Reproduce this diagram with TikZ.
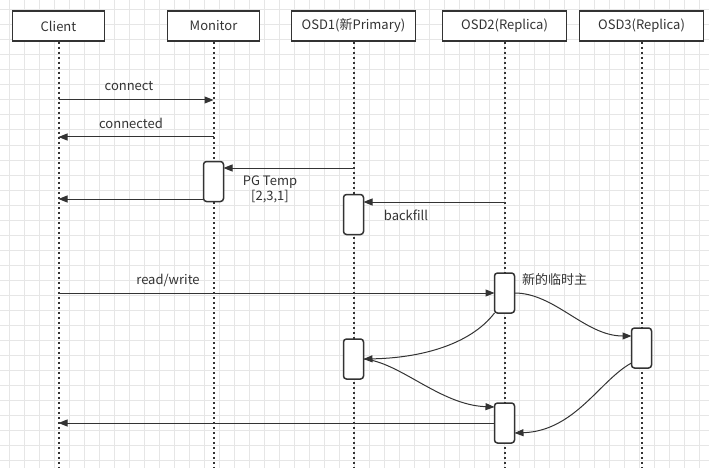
\documentclass[tikz,border=0pt]{standalone}
\usepackage{fontspec}
\setmainfont{Noto Sans CJK SC}
\usetikzlibrary{arrows.meta}
\definecolor{ink}{HTML}{333333}
\definecolor{gridc}{HTML}{E6E6E6}
\begin{document}
\begin{tikzpicture}[x=1pt,y=-1pt,
  font=\fontsize{13}{15}\selectfont,
  head/.style={draw=ink, line width=1.5pt, fill=white, minimum width=#1, minimum height=30pt, inner sep=0pt, text=ink},
  actbox/.style={draw=ink, line width=1.5pt, fill=white, rounded corners=3pt, minimum width=20pt, minimum height=40pt, inner sep=0pt},
  life/.style={draw=ink, line width=2pt, dash pattern=on 2pt off 3pt},
  msg/.style={draw=ink, line width=1pt, -{Triangle[length=9pt,width=7pt]}},
  lbl/.style={text=ink, inner sep=0pt, align=center}]
\useasboundingbox (0,0) rectangle (709,468);
\fill[white] (0,0) rectangle (709,468);
\foreach \i in {0,...,46} \draw[gridc, line width=1pt] (9.5+15*\i,0) -- (9.5+15*\i,468);
\foreach \j in {0,...,30} \draw[gridc, line width=1pt] (0,10+15*\j) -- (709,10+15*\j);

% lifeline ends
\coordinate (clE) at (58.5,468);
\coordinate (moE) at (213.5,468);
\coordinate (o1E) at (353.5,468);
\coordinate (o2E) at (504.5,468);
\coordinate (o3E) at (641.5,468);

% headers
\node[head=92pt] (client) at (58.5,26) {Client};
\node[head=92pt] (monitor) at (213.5,26) {Monitor};
\node[head=124pt] (osd1) at (353.5,26) {OSD1(新Primary)};
\node[head=124pt] (osd2) at (504.5,26) {OSD2(Replica)};
\node[head=124pt] (osd3) at (641.5,26) {OSD3(Replica)};

\draw[life] (client.south) -- (clE);
\draw[life] (monitor.south) -- (moE);
\draw[life] (osd1.south) -- (o1E);
\draw[life] (osd2.south) -- (o2E);
\draw[life] (osd3.south) -- (o3E);

% activation boxes
\node[actbox] (mact) at (213.5,181.5) {};
\node[actbox] (o1a) at (353.5,214.5) {};
\node[actbox] (o2a) at (504.5,293) {};
\node[actbox] (o3a) at (641.5,348) {};
\node[actbox] (o1b) at (353.5,359) {};
\node[actbox] (o2b) at (504.5,423) {};

% message end points on lifelines / boxes
\coordinate (cl100) at (58.5,100);
\coordinate (mo100) at (213.5,100);
\coordinate (mo137) at (213.5,137);
\coordinate (cl137) at (58.5,137);
\coordinate (o1s168) at (353.5,168);
\coordinate (ma168) at (223.5,168);
\coordinate (ma199) at (203.5,199);
\coordinate (cl199) at (58.5,199);
\coordinate (o2s202) at (504.5,202);
\coordinate (o1a202) at (363.5,202);
\coordinate (cl293) at (58.5,293);
\coordinate (o2a293w) at (494.5,293);
\coordinate (o2a293e) at (514.5,293);
\coordinate (o3a336) at (631.5,336);
\coordinate (o3a363) at (631.5,363);
\coordinate (o2b433) at (514.5,433);
\coordinate (o2a313) at (494.5,313);
\coordinate (o1b359) at (363.5,359);
\coordinate (o2b407) at (494.5,407);
\coordinate (o2b423) at (494.5,423);
\coordinate (cl423) at (58.5,423);

\draw[msg] (cl100) -- (mo100);
\node[lbl] (lconnect) at (129,86) {connect};
\draw[msg] (mo137) -- (cl137);
\node[lbl] (lconnected) at (131,123) {connected};
\draw[msg] (o1s168) -- (ma168);
\node[lbl] (lpg) at (270,189.5) {PG Temp\\{[2,3,1]}};
\draw[msg] (ma199) -- (cl199);
\draw[msg] (o2s202) -- (o1a202);
\node[lbl] (lbackfill) at (406,215) {backfill};
\draw[msg] (cl293) -- (o2a293w);
\node[lbl] (lrw) at (168,280) {read/write};
\node[lbl, anchor=west] (lnew) at (522,280) {新的临时主};

\draw[msg] (o2a293e) .. controls (555,293) and (585,336) .. (o3a336);
\draw[msg] (o3a363) .. controls (600,380) and (575,431) .. (o2b433);
\draw[msg] (o2a313) .. controls (470,345) and (420,358) .. (o1b359);
\draw[msg] (o1b359) .. controls (400,362) and (440,405) .. (o2b407);
\draw[msg] (o2b423) -- (cl423);
\end{tikzpicture}
\end{document}
